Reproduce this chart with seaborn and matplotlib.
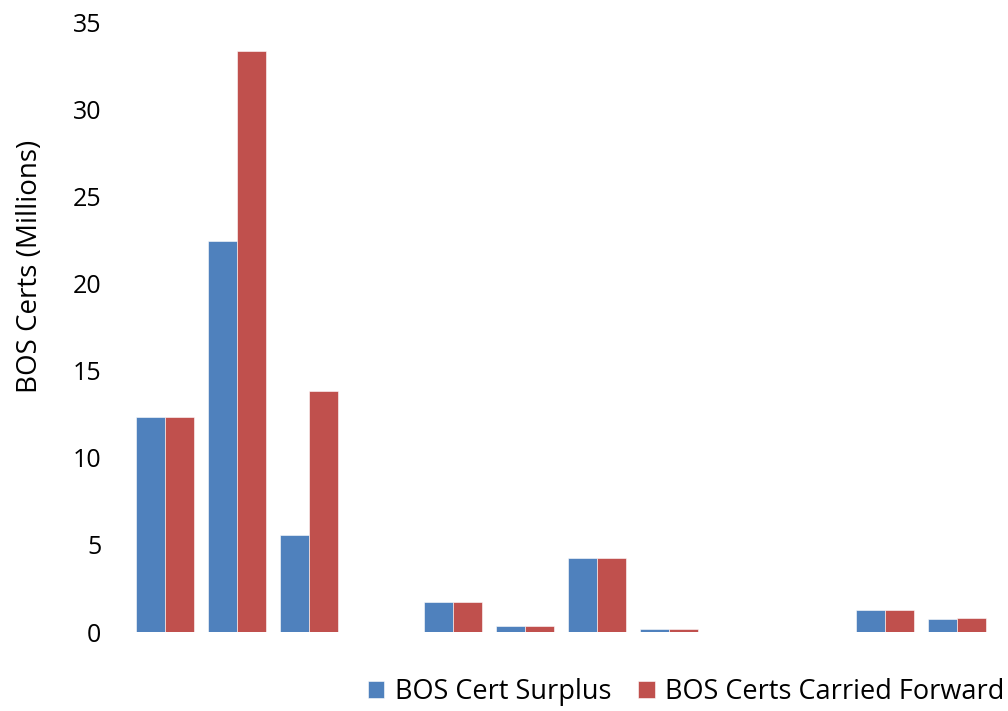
import numpy as np
import pandas as pd
import matplotlib.pyplot as plt
import seaborn as sns

groups = ['1', '2', '3', '4', '5', '6', '7', '8', '9', '10', '11', '12']
surplus = [12.33, 22.45, 5.56, 0, 1.71, 0.33, 4.25, 0.17, 0.03, 0.03, 1.24, 0.75]
carried = [12.33, 33.33, 13.83, 0, 1.71, 0.33, 4.25, 0.17, 0.03, 0.03, 1.24, 0.80]
series = ['BOS Cert Surplus', 'BOS Certs Carried Forward']

df = pd.DataFrame({
    'Group': groups * 2,
    'Value': surplus + carried,
    'Series': [series[0]] * len(groups) + [series[1]] * len(groups),
})

sns.set_style('white')
plt.rcParams['font.family'] = ['Open Sans', 'DejaVu Sans']
plt.rcParams['text.color'] = 'black'
plt.rcParams['axes.labelcolor'] = 'black'
plt.rcParams['ytick.color'] = 'black'

fig = plt.figure(figsize=(10.08, 7.11), dpi=100)
ax = fig.add_axes([0.128, 0.111, 0.857, 0.858])
sns.barplot(data=df, x='Group', y='Value', hue='Series', order=groups,
            palette=['#4F81BD', '#C0504D'], width=0.8, saturation=1,
            edgecolor='white', linewidth=0.4, ax=ax)

ax.set_ylim(0, 35)
ax.set_yticks(range(0, 36, 5))
ax.tick_params(axis='y', labelsize=18, length=0, pad=20)
ax.set_xticks([])
ax.set_xlabel('')
ax.set_ylabel('BOS Certs (Millions)', fontsize=20)
ax.yaxis.set_label_coords(-0.098, 0.6)
for s in ax.spines.values():
    s.set_visible(False)

ax.legend(loc='center', bbox_to_anchor=(0.645, -0.098), ncol=2, frameon=False,
          fontsize=19.5, handlelength=0.6, handleheight=0.6, handletextpad=0.4,
          columnspacing=1.0)

fig.savefig('out.png', dpi=100)
